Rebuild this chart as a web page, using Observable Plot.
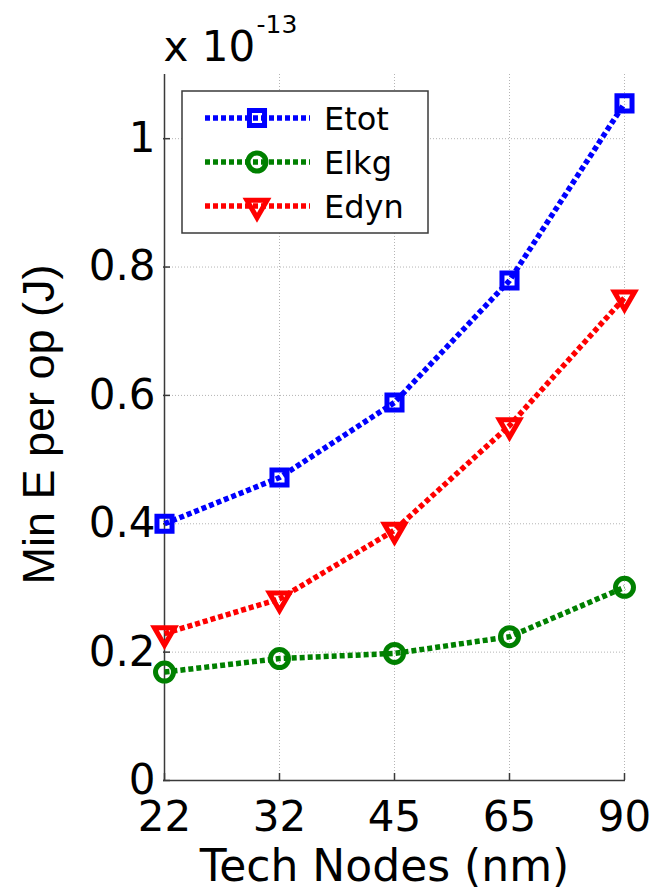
<!DOCTYPE html>
<html>
<head>
<meta charset="utf-8">
<script src="https://cdn.jsdelivr.net/npm/d3@7"></script>
<script src="https://cdn.jsdelivr.net/npm/@observablehq/plot@0.6"></script>
<style>
  html, body { margin: 0; padding: 0; background: white; }
  #chart { position: relative; width: 654px; height: 889px; }
</style>
</head>
<body>
<div id="chart"></div>
<script>
// ---- data ----
const nodes = ["22", "32", "45", "65", "90"];           // Tech Nodes (nm)
const etot  = [0.400, 0.472, 0.589, 0.779, 1.055];       // x 10^-13 J
const elkg  = [0.169, 0.190, 0.198, 0.224, 0.301];
const edyn  = [0.229, 0.283, 0.390, 0.553, 0.752];
const seriesNames  = ["Etot", "Elkg", "Edyn"];
const seriesColors = ["#0000ff", "#008000", "#ff0000"];
const seriesSymbols = ["square", "circle", "triangle"];
const yTicks = [0, 0.2, 0.4, 0.6, 0.8, 1.0];
const xLabel = "Tech Nodes (nm)";
const yLabel = "Min E per op (J)";
const expBase = "x 10";
const expPow = "-13";

const seriesValues = [etot, elkg, edyn];
const rows = [];
seriesNames.forEach((s, i) => nodes.forEach((n, j) => rows.push({series: s, node: n, value: seriesValues[i][j]})));

const font = "DejaVu Sans";
const axisColor = "#3a3a3a";
const gridColor = "#b4b4b4";
const markerR = {Etot: 8.5, Elkg: 9, Edyn: 7.5};

const plot = Plot.plot({
  width: 654,
  height: 889,
  marginLeft: 163,
  marginRight: 29,
  marginTop: 74,
  marginBottom: 109,
  style: {fontFamily: font, fontSize: "42px", background: "white", color: "black", overflow: "visible"},
  x: {type: "point", domain: nodes, padding: 0, label: null},
  y: {domain: [0, 1.1], ticks: yTicks, label: null},
  color: {domain: seriesNames, range: seriesColors},
  symbol: {domain: seriesNames, range: seriesSymbols},
  marks: [
    Plot.gridX(nodes, {stroke: gridColor, strokeOpacity: 1, strokeDasharray: "1,2"}),
    Plot.gridY(yTicks.slice(1), {stroke: gridColor, strokeOpacity: 1, strokeDasharray: "1,2"}),
    Plot.ruleY([0], {stroke: axisColor, strokeWidth: 1.5}),
    Plot.ruleX([nodes[0]], {stroke: axisColor, strokeWidth: 1.5}),
    Plot.axisX({tickSize: -7, tickPadding: 28, stroke: axisColor, strokeWidth: 1.5, fontSize: 42, label: null}),
    Plot.axisY(yTicks, {tickSize: -7, tickPadding: 15, stroke: axisColor, strokeWidth: 1.5, fontSize: 42, label: null,
      tickFormat: d => String(+d.toFixed(1))}),
    Plot.line(rows, {x: "node", y: "value", z: "series", stroke: "series",
      strokeWidth: 5.5, strokeDasharray: "5,3", strokeLinecap: "butt"}),
    ...seriesNames.map(s => Plot.dot(rows.filter(d => d.series === s), {
      x: "node", y: "value", stroke: "series", symbol: "series",
      r: markerR[s], rotate: s === "Edyn" ? 180 : 0,
      fill: "none", strokeWidth: 5})),
    Plot.text([xLabel], {frameAnchor: "bottom", dx: -10, dy: 100, lineAnchor: "bottom", textAnchor: "middle",
      fontSize: 44, fill: "black"}),
    Plot.text([yLabel], {frameAnchor: "left", dx: 53 - 163, dy: -3, rotate: -90, lineAnchor: "bottom", textAnchor: "middle",
      fontSize: 45, fontFamily: "Liberation Sans", fill: "black"}),
    Plot.text([expBase], {frameAnchor: "top-left", dy: -14, lineAnchor: "bottom", textAnchor: "start",
      fontSize: 42, fill: "black"}),
    Plot.text([expPow], {frameAnchor: "top-left", dx: 93, dy: -42, lineAnchor: "bottom", textAnchor: "start",
      fontSize: 25, fill: "black"})
  ]
});

document.getElementById("chart").appendChild(plot);

// ---- legend (MATLAB style box, upper left) ----
const svg = d3.select(plot);
const lg = svg.append("g").attr("transform", "translate(182,91)");
lg.append("rect").attr("width", 246).attr("height", 142)
  .attr("fill", "white").attr("stroke", axisColor).attr("stroke-width", 1.5);
const symMap = {square: d3.symbolSquare, circle: d3.symbolCircle, triangle: d3.symbolTriangle};
seriesNames.forEach((name, i) => {
  const cy = 27 + i * 44;
  const r = markerR[name];
  const g = lg.append("g").attr("transform", `translate(0,${cy})`);
  g.append("line").attr("x1", 23).attr("x2", 128).attr("y1", 0).attr("y2", 0)
    .attr("stroke", seriesColors[i]).attr("stroke-width", 5.5).attr("stroke-dasharray", "5,3");
  g.append("path")
    .attr("d", d3.symbol(symMap[seriesSymbols[i]], Math.PI * r * r)())
    .attr("transform", `translate(75,0) rotate(${seriesSymbols[i] === "triangle" ? 180 : 0})`)
    .attr("fill", "none").attr("stroke", seriesColors[i]).attr("stroke-width", 5);
  g.append("text").attr("x", 142).attr("y", 0).attr("dy", "0.36em").attr("text-anchor", "start")
    .attr("font-family", font).attr("font-size", 32).attr("fill", "black").text(name);
});
</script>
</body>
</html>
